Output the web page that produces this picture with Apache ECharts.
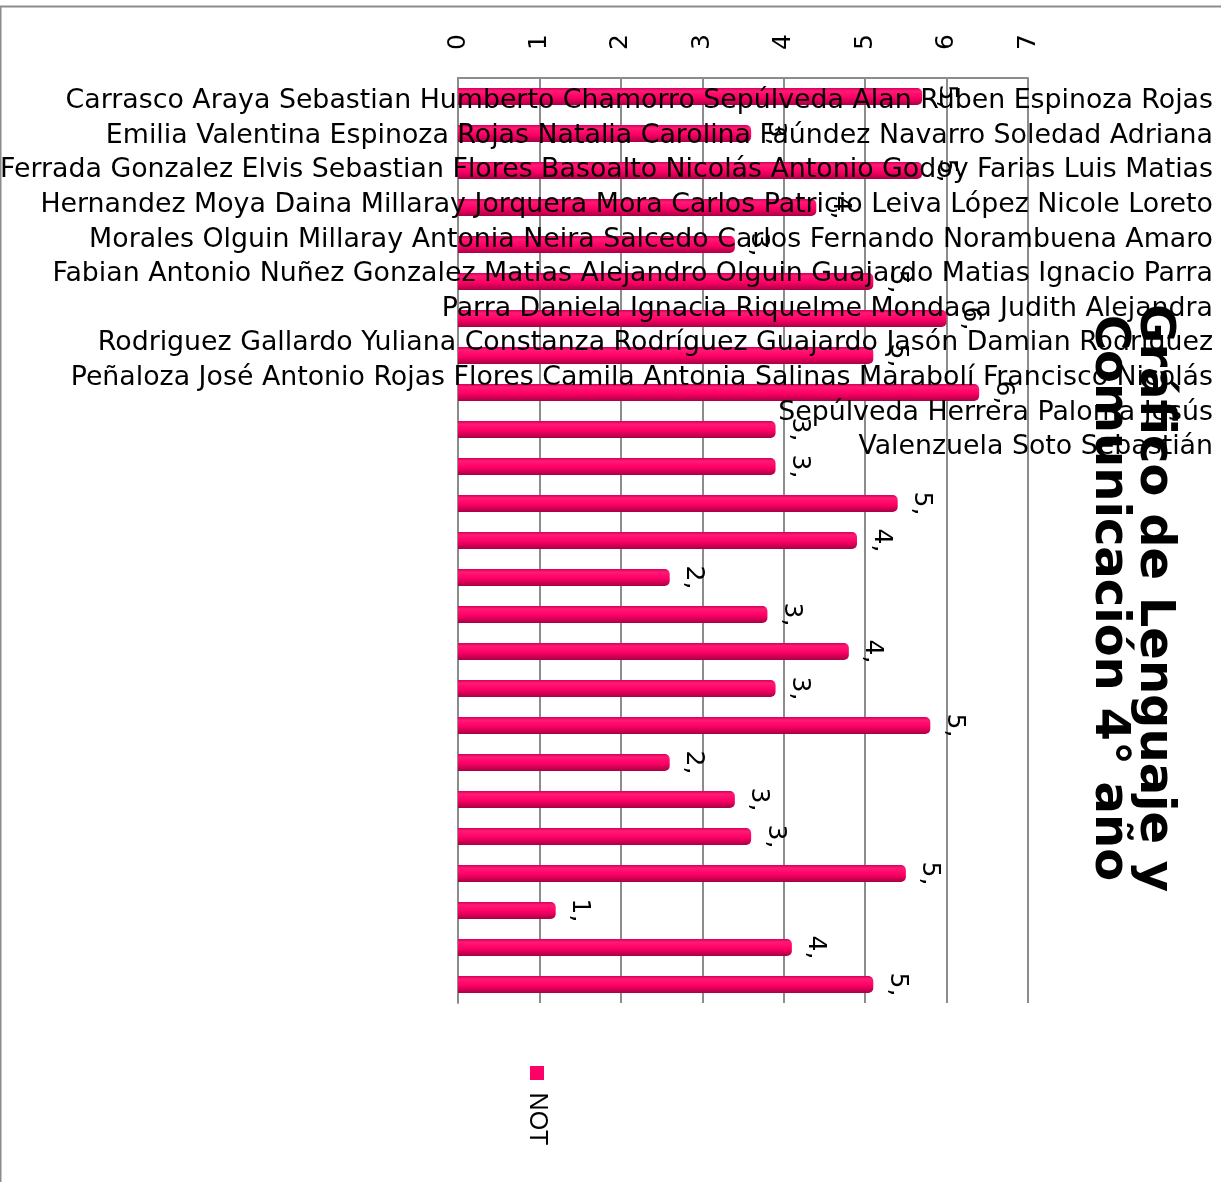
<!DOCTYPE html>
<html>
<head>
<meta charset="utf-8">
<script src="https://cdn.jsdelivr.net/npm/echarts@6/dist/echarts.min.js"></script>
<style>
  html, body { margin: 0; padding: 0; background: #ffffff; }
  #chart { width: 1221px; height: 1182px; }
</style>
</head>
<body>
<div id="chart"></div>
<script>
// Students (category axis, top to bottom)
const students = [
  'Carrasco Araya Sebastian Humberto',
  'Chamorro Sepúlveda Alan Ruben',
  'Espinoza Rojas Emilia Valentina',
  'Espinoza Rojas Natalia Carolina',
  'Faúndez Navarro Soledad Adriana',
  'Ferrada Gonzalez Elvis Sebastian',
  'Flores Basoalto Nicolás Antonio',
  'Godoy Farias Luis Matias',
  'Hernandez Moya Daina Millaray',
  'Jorquera Mora Carlos Patricio',
  'Leiva López Nicole Loreto',
  'Morales Olguin Millaray Antonia',
  'Neira Salcedo Carlos Fernando',
  'Norambuena Amaro Fabian Antonio',
  'Nuñez Gonzalez Matias Alejandro',
  'Olguin Guajardo Matias Ignacio',
  'Parra Parra Daniela Ignacia',
  'Riquelme Mondaca Judith Alejandra',
  'Rodriguez Gallardo Yuliana Constanza',
  'Rodríguez Guajardo Jasón Damian',
  'Rodriguez Peñaloza José Antonio',
  'Rojas Flores Camila Antonia',
  'Salinas Marabolí Francisco Nicolás',
  'Sepúlveda Herrera Paloma Jesús',
  'Valenzuela Soto Sebastián'
];

// Grade per student (series "NOT")
const seriesName = 'NOT';
const grades = [
  5.7, 3.6, 5.7, 4.4, 3.4, 5.1, 6.0, 5.1, 6.4, 3.9,
  3.9, 5.4, 4.9, 2.6, 3.8, 4.8, 3.9, 5.8, 2.6, 3.4,
  3.6, 5.5, 1.2, 4.1, 5.1
];

// Value axis ticks
const valueTicks = [0, 1, 2, 3, 4, 5, 6, 7];

const titleLines = ['Gráfico de Lenguaje y', 'Comunicación 4° año'];

// Words per line of the run-on name block printed over the plot
const nameLineWords = [10, 10, 12, 12, 10, 11, 7, 9, 11, 4, 3];

const words = students.join(' ').split(' ');
const nameLines = [];
let w0 = 0;
nameLineWords.forEach(function (n) {
  nameLines.push(words.slice(w0, w0 + n).join(' '));
  w0 += n;
});

const barColor = '#ff0066';
const gridGray = '#8c8c8c';

const chart = echarts.init(document.getElementById('chart'), null, { renderer: 'canvas' });

const option = {
  backgroundColor: '#ffffff',
  animation: false,
  grid: { left: 458, right: 193, top: 78, height: 925, containLabel: false },
  xAxis: {
    type: 'value',
    position: 'top',
    min: valueTicks[0],
    max: valueTicks[valueTicks.length - 1],
    interval: 1,
    axisLine: { show: true, lineStyle: { color: gridGray, width: 2 } },
    axisTick: { show: false },
    splitLine: { show: true, lineStyle: { color: gridGray, width: 2 } },
    axisLabel: {
      rotate: -90,
      margin: 36,
      align: 'center',
      verticalAlign: 'middle',
      fontFamily: 'DejaVu Sans',
      fontSize: 25,
      color: '#000000'
    }
  },
  yAxis: {
    type: 'category',
    inverse: true,
    data: students,
    axisLine: { show: true, lineStyle: { color: gridGray, width: 2 } },
    axisTick: { show: false },
    axisLabel: { show: false },
    splitLine: { show: false }
  },
  series: [{
    name: seriesName,
    type: 'bar',
    data: grades,
    barWidth: 17,
    itemStyle: {
      borderRadius: [0, 5, 5, 0],
      color: new echarts.graphic.LinearGradient(0, 0, 0, 1, [
        { offset: 0, color: '#d4005a' },
        { offset: 0.18, color: '#ff1a75' },
        { offset: 0.55, color: '#ff0066' },
        { offset: 1, color: '#a80044' }
      ])
    },
    label: {
      show: true,
      position: 'right',
      distance: 20,
      rotate: -90,
      align: 'center',
      verticalAlign: 'middle',
      offset: [0, -4],
      fontFamily: 'DejaVu Sans',
      fontSize: 25,
      color: '#000000',
      width: 30,
      overflow: 'truncate',
      ellipsis: '',
      formatter: function (p) { return p.value.toFixed(1).replace('.', ','); }
    }
  }],
  graphic: [
    // outer frame
    {
      type: 'rect', z: 0,
      shape: { x: 0.5, y: 6.5, width: 1240, height: 1200 },
      style: { fill: null, stroke: '#8c8c8c', lineWidth: 2 }
    },
    // run-on category names
    {
      type: 'text', z: 100,
      x: 1213, y: 84,
      style: {
        text: nameLines.join('\n'),
        font: '26.8px "DejaVu Sans"',
        fill: '#000000',
        textAlign: 'right',
        textVerticalAlign: 'top',
        lineHeight: 34.6
      }
    },
    // title, rotated
    {
      type: 'text', z: 100,
      x: 1153, y: 598, rotation: -Math.PI / 2,
      style: {
        text: titleLines[0],
        font: 'bold 48px "DejaVu Sans"',
        fill: '#000000',
        textAlign: 'center',
        textVerticalAlign: 'middle'
      }
    },
    {
      type: 'text', z: 100,
      x: 1108, y: 598, rotation: -Math.PI / 2,
      style: {
        text: titleLines[1],
        font: 'bold 48px "DejaVu Sans"',
        fill: '#000000',
        textAlign: 'center',
        textVerticalAlign: 'middle'
      }
    },
    // legend
    {
      type: 'rect', z: 100,
      shape: { x: 530, y: 1066, width: 14, height: 14 },
      style: { fill: barColor }
    },
    {
      type: 'text', z: 100,
      x: 537, y: 1119, rotation: -Math.PI / 2,
      style: {
        text: seriesName,
        font: '25px "Liberation Sans"',
        fill: '#000000',
        textAlign: 'center',
        textVerticalAlign: 'middle'
      }
    }
  ]
};

chart.setOption(option);
</script>
</body>
</html>
